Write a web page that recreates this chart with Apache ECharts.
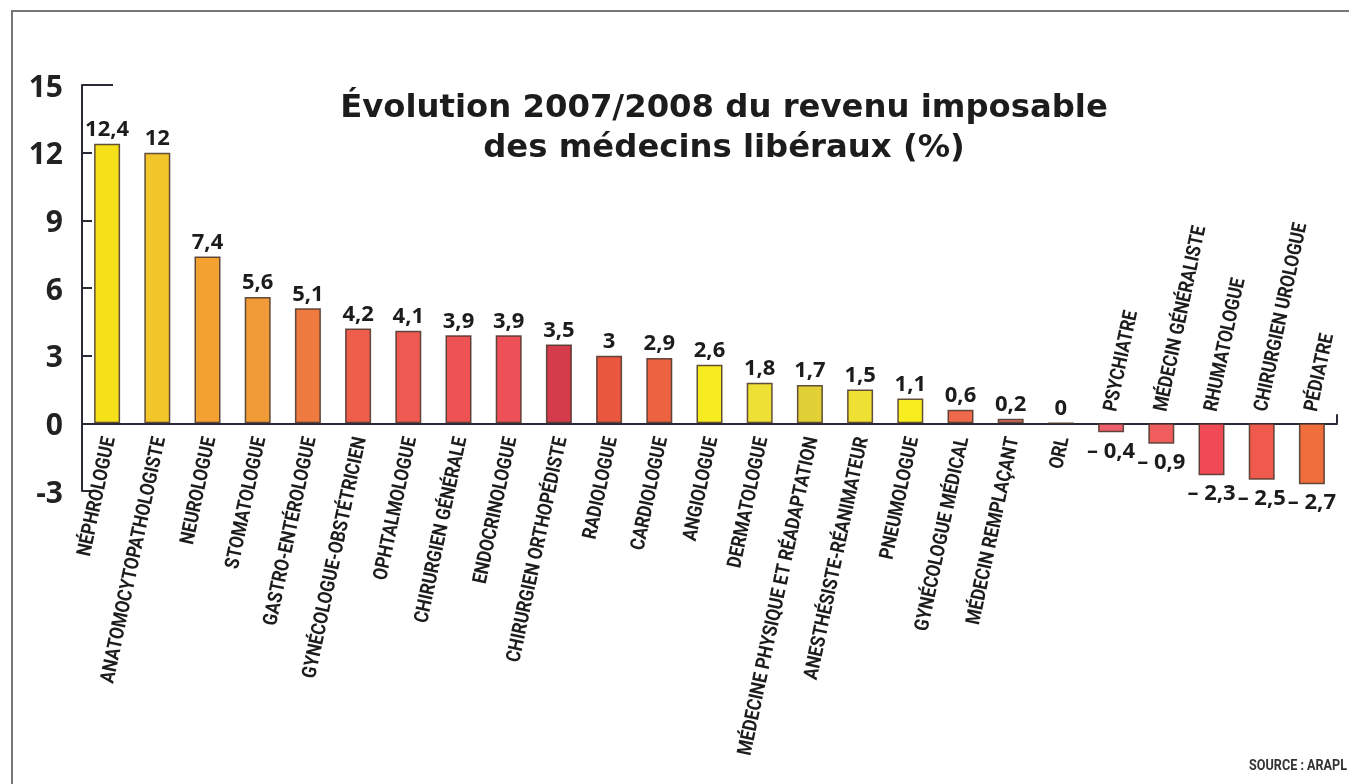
<!DOCTYPE html>
<html>
<head>
<meta charset="utf-8">
<script src="https://cdn.jsdelivr.net/npm/echarts@6/dist/echarts.min.js"></script>
<style>
html,body{margin:0;padding:0;background:#ffffff;}
#c{width:1349px;height:784px;}
</style>
</head>
<body>
<div id="c"></div>
<script>
// ---- data ----
const categories = [
  "NÉPHROLOGUE","ANATOMOCYTOPATHOLOGISTE","NEUROLOGUE","STOMATOLOGUE",
  "GASTRO-ENTÉROLOGUE","GYNÉCOLOGUE-OBSTÉTRICIEN","OPHTALMOLOGUE",
  "CHIRURGIEN GÉNÉRALE","ENDOCRINOLOGUE","CHIRURGIEN ORTHOPÉDISTE",
  "RADIOLOGUE","CARDIOLOGUE","ANGIOLOGUE","DERMATOLOGUE",
  "MÉDECINE PHYSIQUE ET RÉADAPTATION","ANESTHÉSISTE-RÉANIMATEUR",
  "PNEUMOLOGUE","GYNÉCOLOGUE MÉDICAL","MÉDECIN REMPLAÇANT","ORL",
  "PSYCHIATRE","MÉDECIN GÉNÉRALISTE","RHUMATOLOGUE","CHIRURGIEN UROLOGUE","PÉDIATRE"
];
const values = [12.4, 12, 7.4, 5.6, 5.1, 4.2, 4.1, 3.9, 3.9, 3.5, 3, 2.9, 2.6,
  1.8, 1.7, 1.5, 1.1, 0.6, 0.2, 0, -0.4, -0.9, -2.3, -2.5, -2.7];
const yMin = -3, yMax = 15, yStep = 3;
const titleLines = ["Évolution 2007/2008 du revenu imposable", "des médecins libéraux (%)"];
const sourceText = "SOURCE : ARAPL";

// ---- style ----
const barColors = [
  "#f5e01a","#f2c52b","#f3a232","#f19b38","#ee7a40","#ef5e4b","#ee5a52",
  "#ee5252","#ed5157","#d43c4b","#e9573f","#ed6240","#f7ec1f","#eee034",
  "#e2d136","#efe034","#f7ed1f","#ee6a4a","#e0705e","#cccccc","#ee5f6c",
  "#ef5d5f","#ef4a55","#ef5a4c","#ef6e3c"
];
const ink = "#1c1c1c";
const axisColor = "#2b2838";
const titleFont = "'DejaVu Sans', 'Open Sans', sans-serif";
const numFont = "'Open Sans', 'Noto Sans', sans-serif";
const condFont = "Roboto, 'Noto Sans', sans-serif";
const GRID = {left: 82, right: 12, top: 85, bottom: 293};
const LABEL_ROT = 78 * Math.PI / 180;

function fmt(v) {
  const s = String(Math.abs(v)).replace(".", ",");
  return v < 0 ? "\u2013 " + s : s;
}

const chart = echarts.init(document.getElementById("c"), null, {renderer: "canvas"});

const option = {
  backgroundColor: "#ffffff",
  animation: false,
  title: {
    text: titleLines.join("\n"),
    left: 719,
    top: 84,
    textAlign: "center",
    textStyle: {
      fontFamily: titleFont, fontWeight: "bold", fontSize: 32.3,
      lineHeight: 40, color: ink, align: "center"
    }
  },
  grid: {left: GRID.left, right: GRID.right, top: GRID.top, bottom: GRID.bottom,
         containLabel: false, outerBoundsMode: "none"},
  xAxis: {
    type: "category",
    data: categories,
    axisLine: {onZero: true, lineStyle: {color: axisColor, width: 2}},
    axisTick: {show: false},
    axisLabel: {show: false},
    splitLine: {show: false}
  },
  yAxis: {
    type: "value",
    min: yMin, max: yMax, interval: yStep,
    axisLine: {show: true, lineStyle: {color: axisColor, width: 2}},
    axisTick: {show: true, inside: true, length: 10, lineStyle: {color: axisColor, width: 2}},
    axisLabel: {
      margin: 19, fontFamily: numFont, fontWeight: "bold", fontSize: 30, color: "#222",
      verticalAlign: "top", lineHeight: 30, padding: [-12, 0, 0, 0]
    },
    splitLine: {show: false}
  },
  series: [
    {
      type: "bar",
      barWidth: 26,
      data: values.map((v, i) => ({
        value: v,
        itemStyle: {color: barColors[i]},
        label: {position: v < 0 ? "bottom" : "top", distance: v < 0 ? 8 : 3}
      })),
      itemStyle: {borderColor: "rgba(70,50,40,0.85)", borderWidth: 1.5},
      label: {
        show: true,
        fontFamily: numFont, fontWeight: "bold", fontSize: 22, color: ink,
        formatter: p => fmt(p.value)
      }
    },
    {
      // category names, condensed and rotated, anchored on the zero line
      type: "custom",
      data: categories.map((c, i) => [i, values[i]]),
      encode: {x: 0, y: 1},
      clip: false,
      silent: true,
      z: 5,
      renderItem: (params, api) => {
        const i = api.value(0);
        const v = api.value(1);
        const p = api.coord([i, 0]);
        const neg = v < 0;
        return {
          type: "text",
          x: p[0] + (neg ? 0 : 3),
          y: neg ? p[1] - 12 : p[1] + 14,
          rotation: LABEL_ROT,
          scaleX: 0.86,
          scaleY: 1,
          style: {
            text: categories[i],
            font: "bold 20px " + condFont,
            fill: ink,
            align: neg ? "left" : "right",
            verticalAlign: "middle"
          }
        };
      }
    }
  ]
};
chart.setOption(option);

// decorations tied to the axes
const y15 = chart.convertToPixel({yAxisIndex: 0}, yMax);
const y0 = chart.convertToPixel({yAxisIndex: 0}, 0);
const xL = GRID.left, xR = 1349 - GRID.right;
chart.setOption({
  graphic: [
    {type: "line", shape: {x1: xL, y1: y15, x2: xL + 31, y2: y15},
     style: {stroke: axisColor, lineWidth: 2}, z: 10},
    {type: "line", shape: {x1: xR, y1: y0, x2: xR, y2: y0 - 9},
     style: {stroke: axisColor, lineWidth: 2}, z: 10},
    {type: "polyline", shape: {points: [[12, 784], [12, 11], [1349, 11]]},
     style: {stroke: "#777", lineWidth: 2, fill: null}, z: 10},
    {type: "text", right: 2, top: 759, scaleX: 0.9,
     style: {text: sourceText, font: "bold 14px " + condFont, fill: "#333"}}
  ]
});
</script>
</body>
</html>
